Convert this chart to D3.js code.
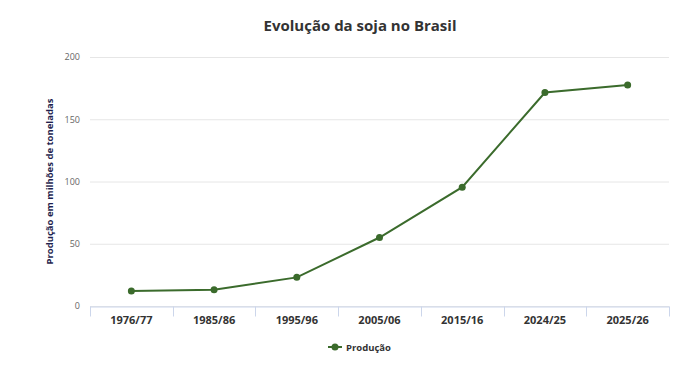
<!DOCTYPE html>
<html>
<head>
<meta charset="utf-8">
<script src="https://cdn.jsdelivr.net/npm/d3@7"></script>
<style>
  body { margin: 0; background: #fff; }
  svg { font-family: "Open Sans", sans-serif; display: block; }
</style>
</head>
<body>
<div id="chart"></div>
<script>
// data
var safras = ['1976/77', '1985/86', '1995/96', '2005/06', '2015/16', '2024/25', '2025/26'];
var producao = [12, 13, 23, 55, 95.4, 171.5, 177.5];
var yTicks = [0, 50, 100, 150, 200];

var margins = { top: 57, left: 90, right: 31, bottom: 59 };
var width = 700 - margins.left - margins.right;
var height = 365 - margins.top - margins.bottom;
var lineColor = '#3b6b2c';

var svg = d3.select('#chart').append('svg')
        .attr('width', 700)
        .attr('height', 365);

var xScale = d3.scaleBand()
        .domain(safras)
        .range([0, width]);
var yScale = d3.scaleLinear()
        .domain([0, 200])
        .range([height, 0]);

var g = svg.append('g')
        .attr('transform', 'translate(' + margins.left + ',' + margins.top + ')');

// grid
g.append('g')
        .selectAll('line')
        .data(yTicks)
        .enter()
        .append('line')
        .attr('x1', 0)
        .attr('x2', width)
        .attr('y1', function(d) { return yScale(d) + 0.5; })
        .attr('y2', function(d) { return yScale(d) + 0.5; })
        .attr('stroke', '#e6e6e6');

// y axis labels
var vAxis = d3.axisLeft(yScale).tickValues(yTicks).tickSize(0).tickPadding(10);
var vGuide = g.append('g').call(vAxis);
vGuide.select('.domain').remove();
vGuide.selectAll('text')
        .attr('fill', '#666')
        .style('font-size', '9px')
        .style('font-family', '"Open Sans", sans-serif');

// x axis
var hAxis = d3.axisBottom(xScale).tickSizeOuter(0).tickSizeInner(0).tickPadding(10);
var hGuide = g.append('g')
        .attr('transform', 'translate(0,' + (height + 0.5) + ')')
        .call(hAxis);
hGuide.select('.domain').attr('stroke', '#ccd6eb');
hGuide.selectAll('text')
        .attr('fill', '#333')
        .style('font-size', '11px')
        .style('font-weight', 'bold')
        .style('font-family', '"Open Sans", sans-serif');
// band boundaries as ticks
var bounds = safras.map(function(s) { return xScale(s); }).concat([width]);
hGuide.selectAll('line.bound')
        .data(bounds)
        .enter()
        .append('line')
        .attr('class', 'bound')
        .attr('x1', function(d) { return Math.round(d) + 0.5; })
        .attr('x2', function(d) { return Math.round(d) + 0.5; })
        .attr('y1', 0)
        .attr('y2', 10)
        .attr('stroke', '#ccd6eb');

// line
var line = d3.line()
        .x(function(d, i) { return xScale(safras[i]) + xScale.bandwidth() / 2; })
        .y(function(d) { return yScale(d); });

g.append('path')
        .datum(producao)
        .attr('d', line)
        .attr('fill', 'none')
        .attr('stroke', lineColor)
        .attr('stroke-width', 2);

g.selectAll('circle.pt')
        .data(producao)
        .enter()
        .append('circle')
        .attr('class', 'pt')
        .attr('cx', function(d, i) { return xScale(safras[i]) + xScale.bandwidth() / 2; })
        .attr('cy', function(d) { return yScale(d); })
        .attr('r', 3.5)
        .attr('fill', lineColor);

// title
svg.append('text')
        .attr('x', 360)
        .attr('y', 31)
        .attr('text-anchor', 'middle')
        .attr('fill', '#333')
        .style('font-size', '15px')
        .style('font-weight', 'bold')
        .text('Evolução da soja no Brasil');

// y axis title
svg.append('text')
        .attr('transform', 'translate(53,' + (margins.top + height / 2) + ') rotate(-90)')
        .attr('text-anchor', 'middle')
        .attr('fill', '#1f1f4f')
        .style('font-size', '9.5px')
        .style('font-weight', 'bold')
        .text('Produção em milhões de toneladas');

// legend
var lg = svg.append('g').attr('transform', 'translate(328,347)');
lg.append('line')
        .attr('x1', 0).attr('x2', 14)
        .attr('y1', 0).attr('y2', 0)
        .attr('stroke', lineColor)
        .attr('stroke-width', 2);
lg.append('circle')
        .attr('cx', 7).attr('cy', 0).attr('r', 3.5)
        .attr('fill', lineColor);
lg.append('text')
        .attr('x', 18)
        .attr('y', 3.5)
        .attr('fill', '#333')
        .style('font-size', '9.5px')
        .style('font-weight', 'bold')
        .text('Produção');
</script>
</body>
</html>
